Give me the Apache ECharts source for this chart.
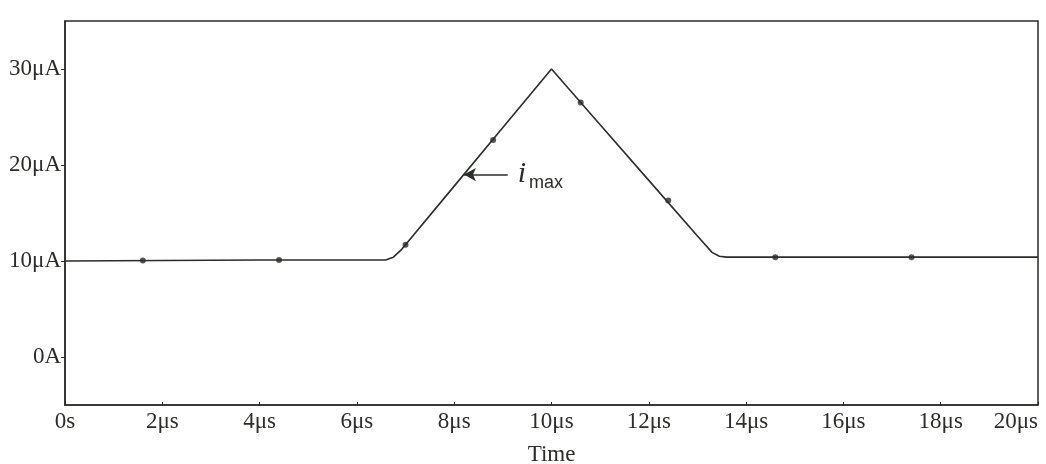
<!DOCTYPE html>
<html>
<head>
<meta charset="utf-8">
<title>i_max vs Time</title>
<script src="https://cdn.jsdelivr.net/npm/echarts@6/dist/echarts.min.js"></script>
<style>
  html, body { margin: 0; padding: 0; background: #fff; }
  #chart { width: 1046px; height: 464px; }
</style>
</head>
<body>
<div id="chart"></div>
<script>
// Simulated current waveform: time in µs, current in µA
const timeUs = [0, 2, 4, 6, 6.6, 6.75, 6.9, 8, 9, 10, 11, 12, 13, 13.3, 13.45, 13.6, 16, 18, 20];
const currentUA = [10.0, 10.05, 10.1, 10.1, 10.12, 10.4, 11.1, 17.8, 23.9, 30.0, 24.2, 18.4, 12.6, 10.9, 10.5, 10.4, 10.4, 10.4, 10.4];

// Trace markers placed along the waveform
const markerTimeUs = [1.6, 4.4, 7.0, 8.8, 10.6, 12.4, 14.6, 17.4];
const markerUA = [10.05, 10.1, 11.7, 22.6, 26.5, 16.3, 10.4, 10.4];

// Axis ticks
const xTicks = [0, 2, 4, 6, 8, 10, 12, 14, 16, 18, 20];
const yTicks = [0, 10, 20, 30];

// i_max callout: arrow from the text to the rising edge
const calloutTail = [9.1, 19.0];
const calloutTip = [8.2, 19.0];

const ink = '#2b2d2a';
const serif = '"Liberation Serif", "Times New Roman", serif';

const chart = echarts.init(document.getElementById('chart'));
chart.setOption({
  animation: false,
  backgroundColor: '#fff',
  grid: {
    left: 65, right: 8, top: 21, bottom: 59,
    outerBoundsMode: 'none',
    show: true, borderColor: ink, borderWidth: 1.5, backgroundColor: 'transparent'
  },
  xAxis: {
    type: 'value', min: 0, max: 20, interval: 2,
    name: 'Time', nameLocation: 'middle', nameGap: 38,
    nameTextStyle: { fontFamily: serif, fontSize: 23, color: ink },
    axisLine: { onZero: false, lineStyle: { color: ink, width: 1.5 } },
    axisTick: { inside: true, length: 3, lineStyle: { color: ink } },
    splitLine: { show: false },
    axisLabel: {
      fontFamily: serif, fontSize: 23, color: ink, margin: 5,
      alignMaxLabel: 'right',
      formatter: v => (v === 0 ? '0s' : v + 'μs')
    }
  },
  yAxis: {
    type: 'value', min: -5, max: 35,
    axisLine: { show: true, onZero: false, lineStyle: { color: ink, width: 1.5 } },
    axisTick: { show: true, length: 4, customValues: yTicks, lineStyle: { color: ink } },
    splitLine: { show: false },
    axisLabel: {
      customValues: yTicks,
      fontFamily: serif, fontSize: 23, color: ink, margin: 4,
      formatter: v => (v === 0 ? '0A' : v + 'μA')
    }
  },
  series: [
    {
      type: 'line',
      data: timeUs.map((t, i) => [t, currentUA[i]]),
      showSymbol: false,
      lineStyle: { color: ink, width: 1.6 },
      markLine: {
        silent: true,
        symbol: ['none', 'arrow'],
        symbolSize: [10, 12],
        lineStyle: { color: ink, width: 1.5, type: 'solid' },
        label: { show: false },
        data: [[{ coord: calloutTail }, { coord: calloutTip }]]
      },
      markPoint: {
        silent: true,
        symbol: 'circle', symbolSize: 0,
        data: [{ coord: calloutTail }],
        label: {
          show: true, position: 'right', distance: 10,
          formatter: '{i|i}{m|max}',
          rich: {
            i: { fontFamily: serif, fontStyle: 'italic', fontSize: 30, color: ink },
            m: { fontFamily: '"Liberation Sans", Arial, sans-serif', fontSize: 18, color: ink, padding: [16, 0, 0, 3] }
          }
        }
      }
    },
    {
      type: 'scatter',
      data: markerTimeUs.map((t, i) => [t, markerUA[i]]),
      symbol: 'circle',
      symbolSize: 6,
      itemStyle: { color: ink }
    }
  ]
});
</script>
</body>
</html>
